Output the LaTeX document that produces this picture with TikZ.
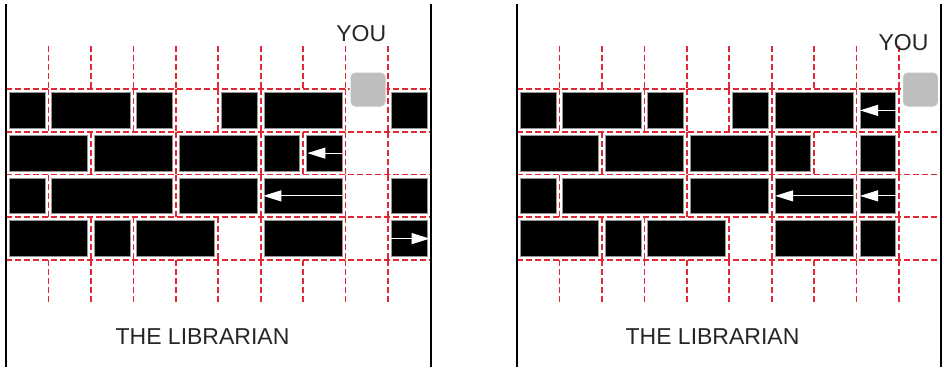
\documentclass[tikz,border=0pt]{standalone}
\usepackage{fontspec}
\setmainfont{Liberation Sans}
\usetikzlibrary{arrows.meta}
\definecolor{mortar}{RGB}{225,40,50}
\definecolor{youfill}{RGB}{190,190,190}
\definecolor{brickedge}{RGB}{150,150,150}
\tikzset{
  mortarline/.style={mortar, line width=1.6pt, dash pattern=on 6pt off 3pt},
  brick/.style={fill=black, draw=brickedge, line width=0.8pt},
  wallline/.style={line width=2.5pt, black},
  pusharrow/.style={white, line width=1pt, -{Triangle[length=18pt,width=11pt]}},
  lbl/.style={font=\fontsize{23}{23}\selectfont, text=black!85, inner sep=0pt},
  youbox/.style={fill=youfill, draw=white, line width=1pt, rounded corners=5pt,
                 minimum width=36pt, minimum height=35pt, inner sep=0pt},
}
\begin{document}
\begin{tikzpicture}[x=1pt,y=-1pt]
\useasboundingbox (0,0) rectangle (944,367);
% ---------- left panel ----------
\begin{scope}[xshift=6pt, yshift=-89pt, x=42.45pt, y=-42.75pt]
  \foreach \r in {0,...,4} \draw[mortarline] (0,\r) -- (10,\r);
  \foreach \c in {1,...,9} {
    \draw[mortarline] (\c,-1) -- (\c,0);
    \draw[mortarline] (\c,4) -- (\c,5);
  }
  \foreach \r/\c in {0/1,0/3,0/4,0/5,0/6,0/8,0/9,
                     1/2,1/4,1/6,1/7,1/8,1/9,
                     2/1,2/4,2/6,2/8,2/9,
                     3/2,3/3,3/5,3/6,3/8,3/9}
    \draw[mortarline] (\c,\r) -- (\c,\r+1);
  \foreach \r/\a/\b in {0/0/1,0/1/3,0/3/4,0/5/6,0/6/8,0/9/10,
                        1/0/2,1/2/4,1/4/6,1/6/7,1/7/8,
                        2/0/1,2/1/4,2/4/6,2/6/8,2/9/10,
                        3/0/2,3/2/3,3/3/5,3/6/8,3/9/10}
    \draw[brick] (\a+0.08,\r+0.08) rectangle (\b-0.08,\r+0.92);
  \coordinate (la1s) at (7.92,1.5);  \coordinate (la1e) at (7.1,1.5);
  \coordinate (la2s) at (7.92,2.5);  \coordinate (la2e) at (6.06,2.5);
  \coordinate (la3s) at (9.08,3.5);  \coordinate (la3e) at (9.98,3.5);
  \draw[pusharrow] (la1s) -- (la1e);
  \draw[pusharrow] (la2s) -- (la2e);
  \draw[pusharrow] (la3s) -- (la3e);
\end{scope}
\coordinate (lwt) at (6,4);   \coordinate (lwb) at (6,367);
\coordinate (rwt) at (431,4); \coordinate (rwb) at (431,367);
\draw[wallline] (lwt) -- (lwb);
\draw[wallline] (rwt) -- (rwb);
\node[youbox] (youL) at (368,89.5) {};
\node[lbl] (youtxtL) at (361.2,33.6) {YOU};
\node[lbl] (libL) at (202.5,336.5) {THE LIBRARIAN};
% ---------- right panel ----------
\begin{scope}[xshift=517pt, yshift=-89pt, x=42.45pt, y=-42.75pt]
  \foreach \r in {0,...,4} \draw[mortarline] (0,\r) -- (10,\r);
  \foreach \c in {1,...,9} {
    \draw[mortarline] (\c,-1) -- (\c,0);
    \draw[mortarline] (\c,4) -- (\c,5);
  }
  \foreach \r/\c in {0/1,0/3,0/4,0/5,0/6,0/8,0/9,
                     1/2,1/4,1/6,1/7,1/8,1/9,
                     2/1,2/4,2/6,2/8,2/9,
                     3/2,3/3,3/5,3/6,3/8,3/9}
    \draw[mortarline] (\c,\r) -- (\c,\r+1);
  \foreach \r/\a/\b in {0/0/1,0/1/3,0/3/4,0/5/6,0/6/8,0/8/9,
                        1/0/2,1/2/4,1/4/6,1/6/7,1/8/9,
                        2/0/1,2/1/4,2/4/6,2/6/8,2/8/9,
                        3/0/2,3/2/3,3/3/5,3/6/8,3/8/9}
    \draw[brick] (\a+0.08,\r+0.08) rectangle (\b-0.08,\r+0.92);
  \coordinate (ra1s) at (8.92,0.5);  \coordinate (ra1e) at (8.08,0.5);
  \coordinate (ra2s) at (8.92,2.5);  \coordinate (ra2e) at (8.08,2.5);
  \coordinate (ra3s) at (7.92,2.5);  \coordinate (ra3e) at (6.08,2.5);
  \draw[pusharrow] (ra1s) -- (ra1e);
  \draw[pusharrow] (ra2s) -- (ra2e);
  \draw[pusharrow] (ra3s) -- (ra3e);
\end{scope}
\coordinate (lwt2) at (517,4); \coordinate (lwb2) at (517,367);
\coordinate (rwt2) at (941,4); \coordinate (rwb2) at (941,367);
\draw[wallline] (lwt2) -- (lwb2);
\draw[wallline] (rwt2) -- (rwb2);
\node[youbox] (youR) at (920.5,89.5) {};
\node[lbl] (youtxtR) at (903.5,43) {YOU};
\node[lbl] (libR) at (712.5,336.5) {THE LIBRARIAN};
\end{tikzpicture}
\end{document}
